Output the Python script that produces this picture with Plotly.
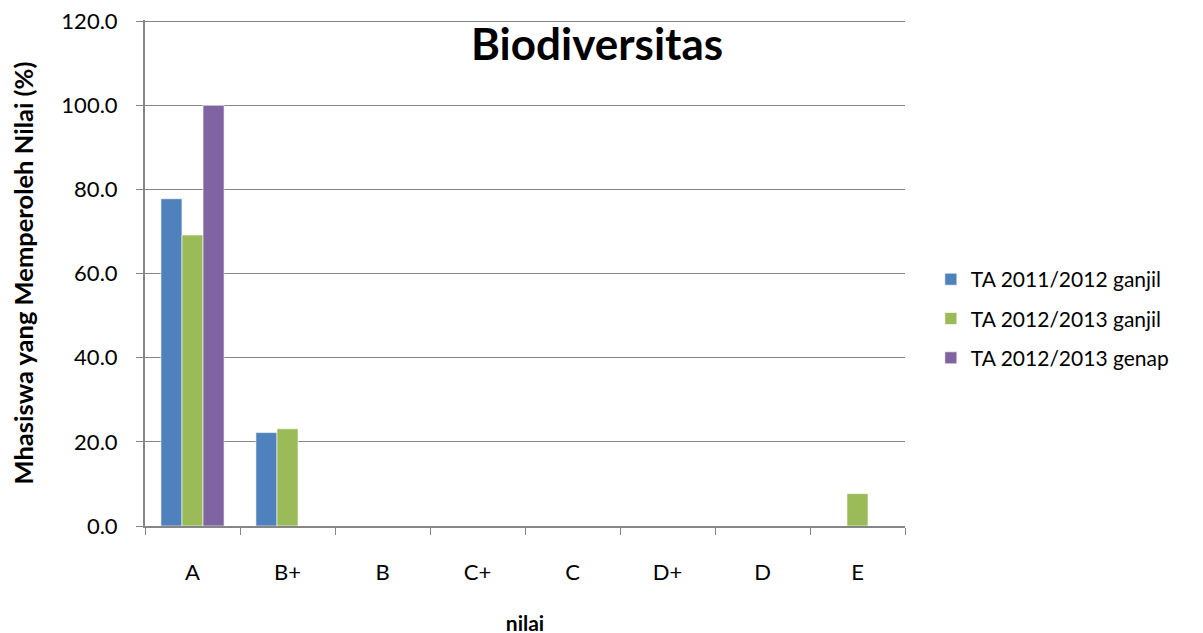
import plotly.graph_objects as go

# ---------------------------------------------------------------------------
# Data
# ---------------------------------------------------------------------------
grades = ["A", "B+", "B", "C+", "C", "D+", "D", "E"]
ta_2011_ganjil = [77.8, 22.2, 0, 0, 0, 0, 0, 0]
ta_2012_ganjil = [69.2, 23.1, 0, 0, 0, 0, 0, 7.7]
ta_2012_genap = [100.0, 0, 0, 0, 0, 0, 0, 0]
y_ticks = [0, 20, 40, 60, 80, 100, 120]

series = [
    ("TA 2011/2012 ganjil", ta_2011_ganjil, "#4F81BD"),
    ("TA 2012/2013 ganjil", ta_2012_ganjil, "#9BBB59"),
    ("TA 2012/2013 genap", ta_2012_genap, "#8064A2"),
]

FONT = "Lato, 'Open Sans', sans-serif"
AXIS_GREY = "#868686"

fig = go.Figure()
for name, values, colour in series:
    fig.add_trace(go.Bar(
        x=grades, y=values,
        name=name,
        legendgroup=name,
        marker=dict(color=colour, line=dict(color="rgba(255,255,255,0.6)", width=1)),
    ))

fig.update_layout(
    width=1203, height=633,
    margin=dict(l=137, r=306, t=12, b=115, autoexpand=False),
    paper_bgcolor="white",
    plot_bgcolor="white",
    barmode="group",
    bargap=0.335,
    bargroupgap=0,
    font=dict(family=FONT, size=22, color="black"),
    showlegend=True,
    legend=dict(
        x=1.034, y=0.41, xanchor="left", yanchor="middle",
        font=dict(size=21),
        tracegroupgap=9,
        itemwidth=30,
    ),
    annotations=[
        dict(
            text="<b>Biodiversitas</b>",
            xref="paper", yref="paper", x=0.595, y=0.955,
            xanchor="center", yanchor="middle",
            showarrow=False,
            font=dict(size=44, family=FONT),
        ),
    ],
)

fig.update_xaxes(
    title=dict(text="<b>nilai</b>", font=dict(size=21), standoff=32),
    showline=True, linecolor=AXIS_GREY, linewidth=2,
    ticks="outside", tickson="boundaries", ticklen=7, tickcolor=AXIS_GREY,
    ticklabelstandoff=26,
    showgrid=False,
    automargin=False,
)
fig.update_yaxes(
    title=dict(text="<b>Mhasiswa yang Memperoleh Nilai (%)</b>", font=dict(size=25.5), standoff=20),
    range=[0, 120.3], tickvals=y_ticks, tickformat=".1f",
    ticklabeloverflow="allow",
    ticklabelstandoff=14,
    showline=True, linecolor=AXIS_GREY, linewidth=2,
    ticks="outside", ticklen=7, tickcolor=AXIS_GREY,
    showgrid=True, gridcolor=AXIS_GREY, gridwidth=1.2,
    zeroline=False,
    automargin=False,
)

fig.write_html("out.html")
